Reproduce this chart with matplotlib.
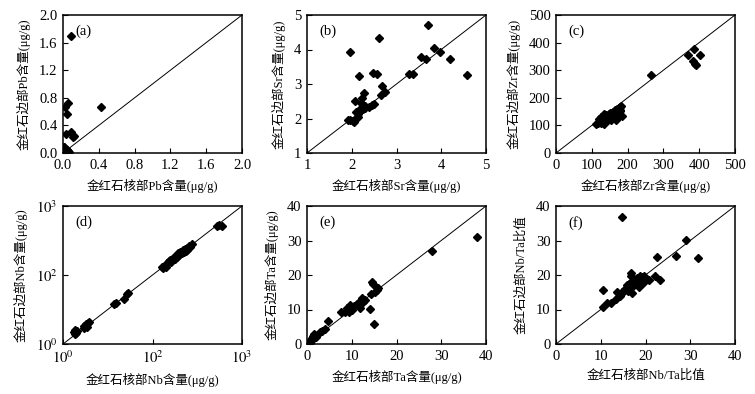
import matplotlib
matplotlib.use("Agg")
import matplotlib.pyplot as plt
from matplotlib.ticker import FixedLocator, FixedFormatter, NullLocator

plt.rcParams['font.family'] = ['Liberation Serif', 'Noto Sans CJK SC', 'DejaVu Sans']
plt.rcParams['mathtext.fontset'] = 'stix'

# ---------------- data ----------------
pb_core = [0.09, 0.06, 0.02, 0.05, 0.43, 0.03, 0.09, 0.11, 0.126,
           0.01, 0.02, 0.01, 0.03, 0.04, 0.02, 0.05, 0.00, 0.01, 0.03,
           0.06, 0.02, 0.04, 0.00, 0.01, 0.05, 0.03, 0.07, 0.01, 0.02]
pb_rim = [1.69, 0.72, 0.66, 0.56, 0.67, 0.28, 0.31, 0.23, 0.25,
          0.01, 0.03, 0.05, 0.02, 0.04, 0.06, 0.01, 0.02, 0.00, 0.05,
          0.03, 0.01, 0.00, 0.07, 0.08, 0.05, 0.00, 0.02, 0.09, 0.04]

sr_core = [1.95, 2.60, 2.17, 2.48, 2.57, 3.28, 3.37, 3.55, 3.67, 3.70, 3.83,
           3.97, 4.20, 4.58, 2.68, 2.75, 2.65, 2.28, 2.08, 2.22, 2.50, 2.45,
           2.38, 2.30, 2.25, 2.20, 2.18, 2.12, 2.15, 2.13, 2.20, 2.25, 1.92,
           1.97, 2.02, 2.05, 2.30, 2.10]
sr_rim = [3.92, 4.33, 3.22, 3.32, 3.30, 3.30, 3.30, 3.78, 3.72, 4.70, 4.03,
          3.92, 3.72, 3.25, 2.95, 2.78, 2.67, 2.75, 2.52, 2.58, 2.43, 2.38,
          2.33, 2.35, 2.38, 2.30, 2.22, 2.18, 2.12, 2.05, 2.45, 2.28, 1.97,
          1.95, 1.92, 1.90, 2.30, 2.20]

zr_core = [265, 370, 385, 383, 388, 390, 402,
           112, 118, 120, 125, 122, 128, 130, 132, 135, 138, 140, 142, 145,
           148, 150, 152, 155, 158, 160, 162, 165, 168, 170, 172, 175, 178,
           180, 182, 185, 180, 145, 155, 165, 125, 135]
zr_rim = [282, 355, 375, 335, 322, 318, 355,
          105, 110, 125, 130, 118, 112, 120, 135, 105, 128, 138, 125, 132,
          140, 145, 128, 135, 142, 150, 138, 155, 118, 160, 130, 145, 152,
          165, 172, 135, 155, 120, 120, 130, 108, 140]

nb_core = [2700, 3100, 3500,
           160, 175, 190, 200, 210, 230, 250, 260, 280, 300, 320, 350, 380,
           400, 420, 450, 480, 500, 520, 550, 580, 600, 650, 700, 760,
           15, 14, 23, 27, 29,
           1.8, 1.9, 2.0, 1.85, 2.1, 3.0, 3.2, 3.4, 3.6, 3.8, 2.9, 3.3]
nb_rim = [2600, 2750, 2700,
          170, 160, 185, 175, 230, 250, 270, 240, 300, 340, 290, 330, 420,
          380, 450, 420, 520, 460, 560, 480, 620, 540, 700, 650, 780,
          15, 14.5, 20, 28, 31,
          2.2, 2.6, 2.1, 1.9, 2.4, 3.3, 3.6, 3.2, 4.0, 4.2, 3.0, 3.9]

ta_core = [38.1, 28.0, 14.6, 14.7, 15.0, 14.1, 15.6, 15.9, 15.2, 14.2,
           12.2, 12.6, 13.0, 11.9, 11.5, 9.6, 8.9, 9.3, 8.5, 7.6, 10.4, 10.0,
           11.1, 4.8, 4.1, 3.3, 3.0, 1.5, 1.3, 1.1, 0.7, 0.4, 0.9, 0.6, 1.9]
ta_rim = [30.9, 27.1, 18.0, 17.5, 5.7, 10.1, 15.6, 16.1, 15.1, 14.6,
          13.2, 12.2, 12.7, 10.5, 11.8, 11.3, 10.3, 9.4, 9.2, 9.2, 11.1, 9.9,
          11.5, 6.7, 4.3, 3.8, 3.6, 2.9, 2.2, 1.7, 1.0, 0.5, 0.8, 0.3, 1.9]

nbta_core = [14.7, 29.1, 22.6, 26.9, 31.7, 22.2, 23.2, 20.7, 10.6, 10.4,
             11.5, 12.2, 13.3, 13.7, 14.4, 14.8, 16.7, 16.8, 17.0,
             15.5, 15.8, 16.0, 16.3, 16.5, 16.8, 17.0, 17.3, 17.5, 17.8, 18.0,
             18.3, 18.5, 18.8, 19.0, 19.3, 19.7, 18.6, 19.5, 16.0, 15.3, 17.2]
nbta_rim = [36.9, 30.2, 25.1, 25.5, 24.8, 19.8, 18.5, 18.5, 15.7, 10.8,
            11.9, 11.9, 13.0, 15.2, 14.0, 15.0, 20.7, 19.8, 14.7,
            16.0, 17.0, 16.5, 17.5, 16.2, 18.0, 17.2, 16.8, 18.5, 17.5, 19.0,
            18.0, 17.0, 19.8, 18.5, 19.5, 19.8, 16.5, 17.8, 15.5, 15.5, 18.2]

lin_ticks_a = [0.0, 0.4, 0.8, 1.2, 1.6, 2.0]
lin_labels_a = ['0.0', '0.4', '0.8', '1.2', '1.6', '2.0']
ticks_b = [1, 2, 3, 4, 5]
ticks_c = [0, 100, 200, 300, 400, 500]
log_ticks_d = [1, 100, 10000]
log_labels_d = [r'$10^0$', r'$10^2$', r'$10^3$']
ticks_ef = [0, 10, 20, 30, 40]

panels = [
    dict(tag='(a)', x=pb_core, y=pb_rim, lim=(0, 2.0), ticks=lin_ticks_a, labels=lin_labels_a,
         xl='金红石核部Pb含量(μg/g)', yl='金红石边部Pb含量(μg/g)', log=False),
    dict(tag='(b)', x=sr_core, y=sr_rim, lim=(1, 5), ticks=ticks_b, labels=None,
         xl='金红石核部Sr含量(μg/g)', yl='金红石边部Sr含量(μg/g)', log=False),
    dict(tag='(c)', x=zr_core, y=zr_rim, lim=(0, 500), ticks=ticks_c, labels=None,
         xl='金红石核部Zr含量(μg/g)', yl='金红石边部Zr含量(μg/g)', log=False),
    dict(tag='(d)', x=nb_core, y=nb_rim, lim=(1, 10000), ticks=log_ticks_d, labels=log_labels_d,
         xl='金红石核部Nb含量(μg/g)', yl='金红石边部Nb含量(μg/g)', log=True),
    dict(tag='(e)', x=ta_core, y=ta_rim, lim=(0, 40), ticks=ticks_ef, labels=None,
         xl='金红石核部Ta含量(μg/g)', yl='金红石边部Ta含量(μg/g)', log=False),
    dict(tag='(f)', x=nbta_core, y=nbta_rim, lim=(0, 40), ticks=ticks_ef, labels=None,
         xl='金红石核部Nb/Ta比值', yl='金红石边部Nb/Ta比值', log=False),
]

W, H = 755, 394
fig = plt.figure(figsize=(W / 100, H / 100), dpi=100)

lefts = [63, 307, 556]
tops = [15, 206]
aw, ah = 179, 138

for i, p in enumerate(panels):
    r, c = divmod(i, 3)
    l = lefts[c]
    t = tops[r]
    ax = fig.add_axes([l / W, (H - t - ah) / H, aw / W, ah / H])
    if p['log']:
        ax.set_xscale('log')
        ax.set_yscale('log')
    lo, hi = p['lim']
    ax.plot([lo, hi], [lo, hi], color='black', lw=0.7, zorder=1)
    ax.plot(p['x'], p['y'], linestyle='none', marker='D', markersize=4.4,
            color='black', zorder=2)
    ax.set_xlim(lo, hi)
    ax.set_ylim(lo, hi)
    ax.xaxis.set_major_locator(FixedLocator(p['ticks']))
    ax.yaxis.set_major_locator(FixedLocator(p['ticks']))
    if p['labels'] is not None:
        ax.xaxis.set_major_formatter(FixedFormatter(p['labels']))
        ax.yaxis.set_major_formatter(FixedFormatter(p['labels']))
    ax.xaxis.set_minor_locator(NullLocator())
    ax.yaxis.set_minor_locator(NullLocator())
    ax.tick_params(direction='in', length=3.5, width=0.8, labelsize=10.5, pad=4,
                   top=False, right=False)
    for s in ax.spines.values():
        s.set_linewidth(1.1)
    ax.set_xlabel(p['xl'], fontsize=9, labelpad=5)
    ax.set_ylabel(p['yl'], fontsize=9, labelpad=6)
    ax.text(0.07, 0.93, p['tag'], transform=ax.transAxes, fontsize=10.5,
            ha='left', va='top')

fig.savefig('out.png', dpi=100)
